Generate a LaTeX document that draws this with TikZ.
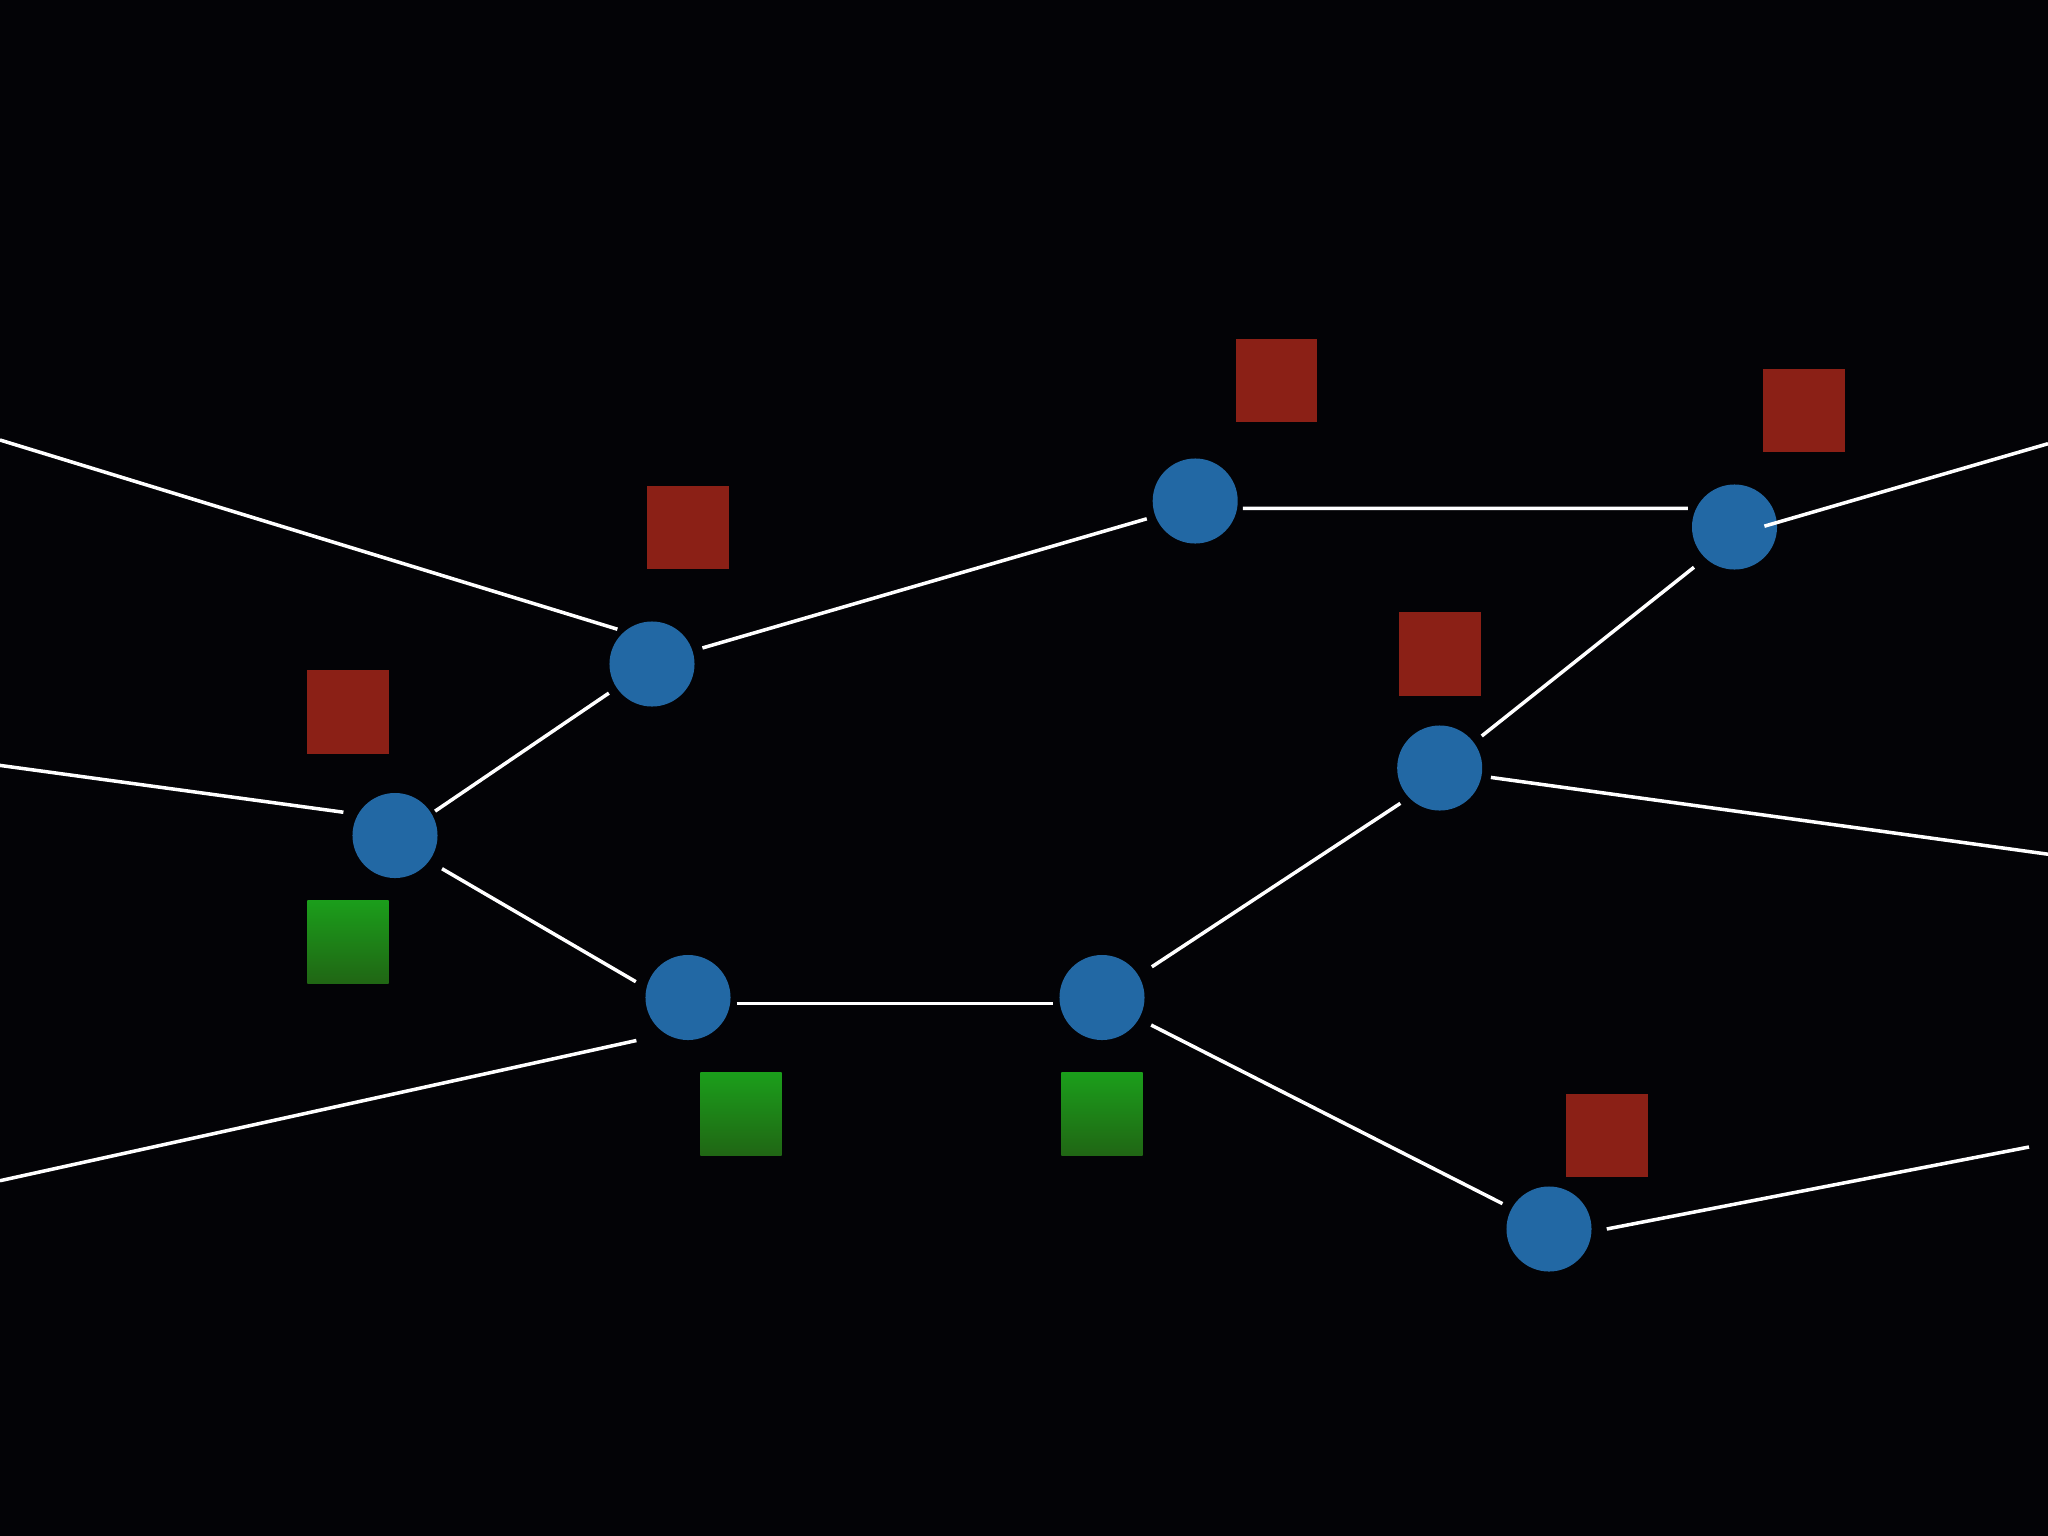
\documentclass[tikz,border=0pt]{standalone}
\usetikzlibrary{shadings}
\definecolor{bg}{RGB}{3,3,6}
\definecolor{nodeblue}{RGB}{34,104,164}
\definecolor{boxred}{RGB}{139,32,22}
\definecolor{greentop}{RGB}{27,158,27}
\definecolor{greenbot}{RGB}{32,102,20}
\begin{document}
\begin{tikzpicture}[x=0.01cm,y=-0.01cm,
  hub/.style={circle,fill=nodeblue,minimum size=8.5mm,inner sep=0pt,outer sep=0pt},
  redbox/.style={rectangle,fill=boxred,minimum width=8.1mm,minimum height=8.3mm,inner sep=0pt,outer sep=0pt},
  greenbox/.style={rectangle,top color=greentop,bottom color=greenbot,minimum width=8.1mm,minimum height=8.3mm,inner sep=0pt,outer sep=0pt},
  link/.style={draw=white,line width=1pt}]
\fill[bg] (0,0) rectangle (2048,1536);
\useasboundingbox (0,0) rectangle (2048,1536);

% hubs
\node[hub] (A) at (395,835.5) {};
\node[hub] (B) at (652,664) {};
\node[hub] (C) at (688,997.5) {};
\node[hub] (D) at (1102,997.5) {};
\node[hub] (E) at (1195.2,501) {};
\node[hub] (F) at (1734.5,527) {};
\node[hub] (G) at (1439.7,768) {};
\node[hub] (H) at (1549,1229) {};

% boxes
\node[redbox] (rA) at (348,712) {};
\node[greenbox] (gA) at (348,941.7) {};
\node[redbox] (rB) at (688,527.7) {};
\node[redbox] (rE) at (1276.8,380.8) {};
\node[redbox] (rF) at (1804,410.8) {};
\node[redbox] (rG) at (1440,654) {};
\node[redbox] (rH) at (1607,1135.8) {};
\node[greenbox] (gC) at (741,1114) {};
\node[greenbox] (gD) at (1102,1114) {};

% free ends
\coordinate (l1) at (0,440);
\coordinate (l2) at (0,765.4);
\coordinate (l3) at (0,1180.7);
\coordinate (r1) at (2048,443.7);
\coordinate (r2) at (2048,854.2);
\coordinate (r3) at (2029,1147);

% links
\draw[link,shorten >=0.76mm] (l1) -- (B.130);
\draw[link,shorten <=1.04mm,shorten >=0.91mm] (B.18) -- (E.201.6);
\draw[link,shorten <=0.57mm,shorten >=0.83mm] (E.-10.7) -- (F.154.8);
\draw[link,shorten <=-1.29mm] (F.6.6) -- (r1);
\draw[link,shorten <=1.47mm,shorten >=1.03mm] (F.227.3) -- (G.37.3);
\draw[link,shorten <=0.95mm] (G.-11.4) -- (r2);
\draw[link,shorten >=1.49mm] (l2) -- (A.150.2);
\draw[link,shorten <=0.44mm,shorten >=0.95mm] (A.31.5) -- (B.214.3);
\draw[link,shorten <=1.51mm,shorten >=1.24mm] (A.-37.5) -- (C.167.8);
\draw[link,shorten >=3.04mm] (l3) -- (C.239.4);
\draw[link,shorten <=0.66mm,shorten >=0.66mm] (C.-8.1) -- (D.188.1);
\draw[link,shorten <=1.6mm,shorten >=1.05mm] (D.31.8) -- (G.224.2);
\draw[link,shorten <=1.38mm,shorten >=1.05mm] (D.-30.1) -- (H.151.8);
\draw[link,shorten <=1.56mm] (H.-4.5) -- (r3);
\end{tikzpicture}
\end{document}
